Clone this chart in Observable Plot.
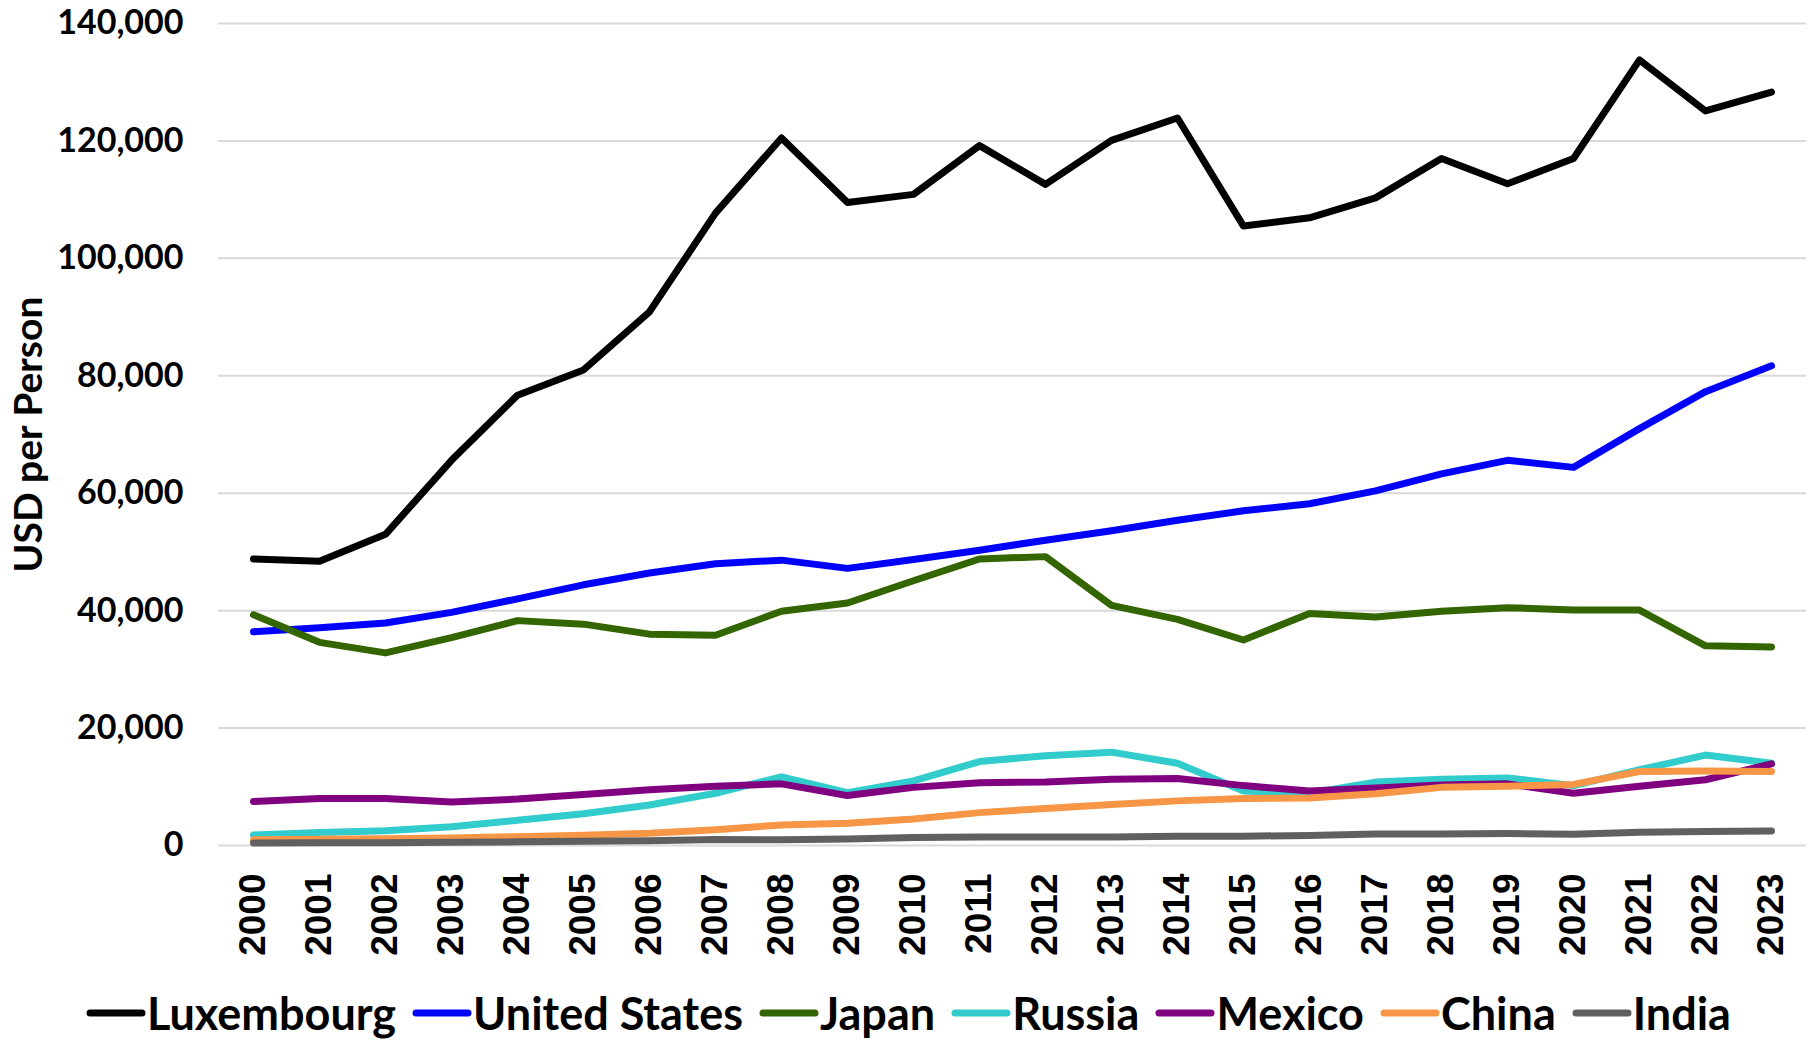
<!DOCTYPE html>
<html>
<head>
<meta charset="utf-8">
<script src="https://cdn.jsdelivr.net/npm/d3@7"></script>
<script src="https://cdn.jsdelivr.net/npm/@observablehq/plot@0.6"></script>
<style>
  body { margin: 0; background: #fff; }
  #wrap { position: relative; width: 1817px; height: 1040px; background: #fff; }
  #legend { position: absolute; left: 0; top: 988px; width: 1817px; height: 50px;
    display: flex; justify-content: center; align-items: center;
    font-family: Lato; font-weight: bold; font-size: 45px; color: #000; }
  .item { display: flex; align-items: center; margin: 0 8px; white-space: nowrap; }
  .item svg { margin-right: 1px; }
</style>
</head>
<body>
<div id="wrap"><div id="chart"></div><div id="legend"></div></div>
<script>
const years = ["2000","2001","2002","2003","2004","2005","2006","2007","2008","2009","2010","2011",
               "2012","2013","2014","2015","2016","2017","2018","2019","2020","2021","2022","2023"];
const countries = ["Luxembourg","United States","Japan","Russia","Mexico","China","India"];
const colors = ["#000000","#0000ff","#336600","#33cccc","#800080","#f79646","#606060"];
const yTicks = [0, 20000, 40000, 60000, 80000, 100000, 120000, 140000];

const luxembourg = [48800,48400,53000,65600,76700,81000,90900,107700,120500,109500,110900,119200,
                    112600,120100,123900,105500,106900,110300,117000,112700,117000,133800,125100,128300];
const unitedStates = [36400,37100,37900,39700,42000,44400,46400,48000,48600,47200,48700,50300,
                      52000,53600,55400,57000,58200,60400,63300,65600,64400,71000,77300,81700];
const japan = [39300,34600,32800,35400,38300,37700,36000,35800,39900,41300,45100,48800,
               49200,40900,38500,35000,39500,38900,39900,40500,40100,40100,34000,33800];
const russia = [1800,2200,2500,3200,4300,5400,6900,8900,11700,9000,11000,14300,
                15300,15900,14000,9300,8900,10800,11300,11500,10200,12900,15400,14000];
const mexico = [7500,8000,8000,7400,7900,8700,9500,10100,10500,8500,9900,10700,
                10800,11300,11400,10200,9300,9800,10300,10500,8900,10100,11200,13900];
const china = [960,1050,1150,1290,1500,1750,2100,2700,3500,3800,4500,5600,
               6300,7000,7600,8000,8100,8800,9900,10100,10400,12600,12700,12600];
const india = [440,450,470,540,620,710,800,1020,990,1090,1350,1450,
               1430,1440,1560,1590,1710,1960,1980,2050,1910,2240,2370,2480];

const seriesValues = [luxembourg, unitedStates, japan, russia, mexico, china, india];

const rows = [];
countries.forEach((c, i) => years.forEach((y, j) => rows.push({country: c, year: y, value: seriesValues[i][j]})));

const lineMarks = countries.map(c =>
  Plot.line(rows.filter(d => d.country === c), {
    x: "year", y: "value", stroke: "country",
    strokeWidth: 7, strokeLinecap: "round", strokeLinejoin: "round"
  })
);

const chart = Plot.plot({
  width: 1817,
  height: 965,
  marginLeft: 218,
  marginRight: 11,
  marginTop: 23,
  marginBottom: 120,
  style: {fontFamily: "Lato", background: "white", color: "black", overflow: "visible"},
  x: {type: "point", domain: years, padding: 0.5},
  y: {domain: [0, 140000]},
  color: {domain: countries, range: colors},
  marks: [
    Plot.gridY(yTicks, {stroke: "#d9d9d9", strokeOpacity: 1, strokeWidth: 2}),
    Plot.axisY(yTicks, {tickSize: 0, tickPadding: 35, tickFormat: d3.format(","),
      fontSize: 34, fontWeight: "bold", fontFamily: "Lato", label: null}),
    Plot.axisX({tickSize: 0, tickPadding: 28, tickRotate: -90,
      fontSize: 37, fontWeight: "bold", fontFamily: "Liberation Sans", label: null}),
    ...lineMarks,
    Plot.text(["USD per Person"], {frameAnchor: "left", textAnchor: "middle", dx: -189, rotate: -90,
      fontSize: 39, fontWeight: "bold", fontFamily: "Lato", fill: "black"})
  ]
});
document.getElementById("chart").appendChild(chart);

const legend = document.getElementById("legend");
countries.forEach((c, i) => {
  const item = document.createElement("div");
  item.className = "item";
  item.innerHTML = `<svg width="60" height="12"><line x1="4" y1="6" x2="56" y2="6" stroke="${colors[i]}" stroke-width="7" stroke-linecap="round"/></svg><span>${c}</span>`;
  legend.appendChild(item);
});
</script>
</body>
</html>
